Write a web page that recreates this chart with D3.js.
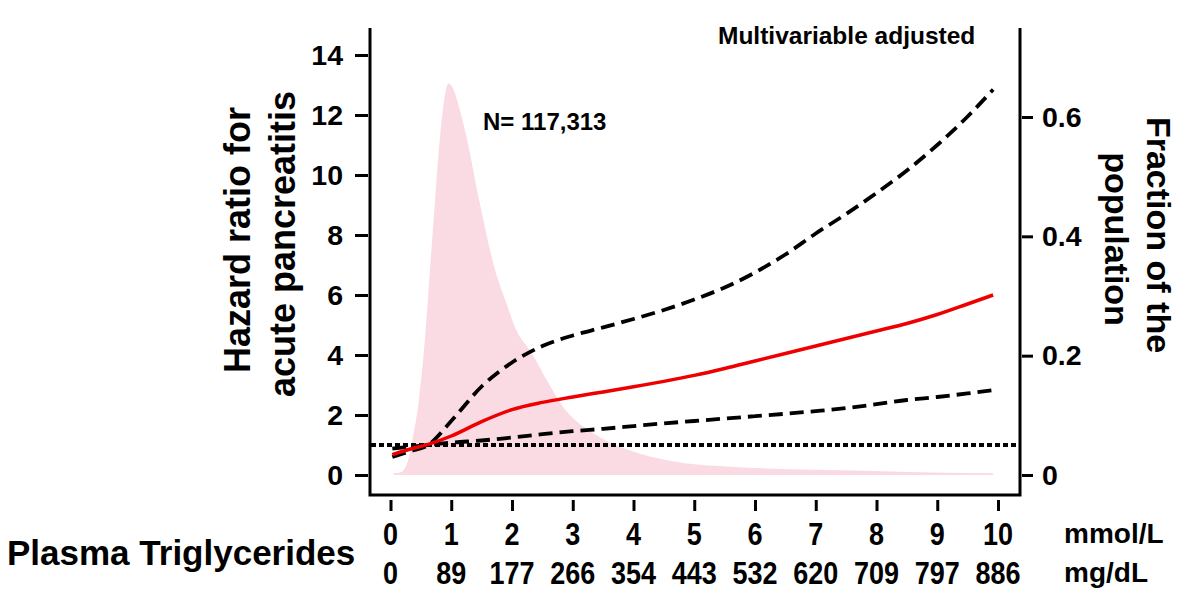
<!DOCTYPE html>
<html>
<head>
<meta charset="utf-8">
<script src="https://cdn.jsdelivr.net/npm/d3@7"></script>
<style>
  html, body { margin: 0; padding: 0; background: #fff; }
  svg { display: block; font-family: "Liberation Sans", Arial, sans-serif; font-weight: bold; }
</style>
</head>
<body>
<svg id="chart" width="1200" height="591"></svg>
<script>
// ---- data ----
const xTicks = [0, 1, 2, 3, 4, 5, 6, 7, 8, 9, 10];
const xTickLabelsMgdl = ["0", "89", "177", "266", "354", "443", "532", "620", "709", "797", "886"];
const yLeftTicks = [0, 2, 4, 6, 8, 10, 12, 14];
const yRightTicks = [0, 0.2, 0.4, 0.6];

// population distribution (fraction of the population) vs plasma TG (mmol/L)
const densX = [0.05, 0.16, 0.24, 0.29, 0.37, 0.46, 0.57, 0.65, 0.73, 0.815, 0.88, 0.95, 1.03, 1.11, 1.25, 1.47, 1.72, 1.9, 2.06, 2.32, 2.6, 2.84, 3.04, 3.34, 3.6, 3.89, 4.27, 4.6, 5.09, 5.6, 6.19, 7.0, 7.84, 8.93, 9.92];
const densF = [0.003, 0.004, 0.012, 0.025, 0.064, 0.12, 0.232, 0.344, 0.456, 0.567, 0.625, 0.656, 0.648, 0.623, 0.567, 0.456, 0.344, 0.29, 0.245, 0.205, 0.154, 0.114, 0.092, 0.07, 0.055, 0.043, 0.031, 0.024, 0.017, 0.014, 0.011, 0.009, 0.007, 0.004, 0.003];

// hazard ratio curves
const hrX = [0.03, 0.3, 0.62, 1.0, 1.5, 2.0, 2.5, 3.0, 3.5, 4.0, 4.5, 5.0, 5.5, 6.0, 6.5, 7.0, 7.5, 8.0, 8.5, 9.0, 9.5, 9.92];
const hrEst = [0.68, 0.85, 1.02, 1.3, 1.78, 2.18, 2.42, 2.6, 2.77, 2.94, 3.12, 3.32, 3.55, 3.8, 4.05, 4.3, 4.55, 4.8, 5.05, 5.35, 5.7, 6.0];
const hrCiA = [0.6, 0.78, 1.0, 1.8, 2.95, 3.75, 4.3, 4.65, 4.92, 5.2, 5.5, 5.85, 6.25, 6.75, 7.35, 8.05, 8.7, 9.4, 10.15, 11.0, 11.95, 12.85];
const hrCiB = [0.88, 0.94, 1.0, 1.08, 1.15, 1.25, 1.36, 1.46, 1.54, 1.63, 1.72, 1.8, 1.88, 1.96, 2.04, 2.13, 2.23, 2.36, 2.5, 2.6, 2.72, 2.83];
const refHR = 1;

// ---- layout ----
const box = { left: 370, right: 1020, top: 28, bottom: 495 };
const svg = d3.select("#chart");

const x = d3.scaleLinear().domain([0, 10]).range([390.5, 998]);
const yL = d3.scaleLinear().domain([0, 14]).range([475, 55]);
const yR = d3.scaleLinear().domain([0, 0.6]).range([475, 117]);

// distribution area
const dens = densX.map((v, i) => ({ x: v, f: densF[i] }));
svg.append("path")
  .datum(dens)
  .attr("fill", "#fbdbe3")
  .attr("d", d3.area().x(d => x(d.x)).y0(yR(0)).y1(d => yR(d.f)).curve(d3.curveMonotoneX));

// reference line HR = 1
svg.append("path")
  .datum([x.invert(box.left + 1), x.invert(box.right - 1)])
  .attr("fill", "none").attr("stroke", "#000").attr("stroke-width", 4)
  .attr("stroke-dasharray", "5,3")
  .attr("d", d3.line().x(d => x(d)).y(() => yL(refHR)));

const line = d3.line().x(d => x(d.x)).y(d => yL(d.y)).curve(d3.curveMonotoneX);
function series(arr) { return hrX.map((v, i) => ({ x: v, y: arr[i] })); }

[hrCiA, hrCiB].forEach(arr => {
  svg.append("path").datum(series(arr))
    .attr("fill", "none").attr("stroke", "#000").attr("stroke-width", 3.8)
    .attr("stroke-dasharray", "14,7")
    .attr("d", line);
});
svg.append("path").datum(series(hrEst))
  .attr("fill", "none").attr("stroke", "#ee0000").attr("stroke-width", 3.5)
  .attr("d", line);

// box (left, bottom, right)
svg.append("path")
  .attr("fill", "none").attr("stroke", "#000").attr("stroke-width", 3)
  .attr("d", `M${box.left},${box.top}V${box.bottom}H${box.right}V${box.top}`);

// left axis
const gL = svg.append("g").attr("transform", `translate(${box.left - 2},0)`)
  .call(d3.axisLeft(yL).tickValues(yLeftTicks).tickSize(13).tickPadding(12).tickFormat(d3.format("d")));
gL.select(".domain").remove();
gL.selectAll(".tick line").attr("stroke-width", 3);
gL.selectAll(".tick text").attr("font-size", 28.5).attr("font-family", "Liberation Sans, Arial, sans-serif").attr("font-weight", "bold").attr("fill", "#000");

// right axis
const gR = svg.append("g").attr("transform", `translate(${box.right + 2},0)`)
  .call(d3.axisRight(yR).tickValues(yRightTicks).tickSize(11).tickPadding(9).tickFormat(d => d === 0 ? "0" : d3.format(".1f")(d)));
gR.select(".domain").remove();
gR.selectAll(".tick line").attr("stroke-width", 3);
gR.selectAll(".tick text").attr("font-size", 28.5).attr("font-family", "Liberation Sans, Arial, sans-serif").attr("font-weight", "bold").attr("fill", "#000");

// bottom axis (ticks only)
const gB = svg.append("g").attr("transform", `translate(0,500)`)
  .call(d3.axisBottom(x).tickValues(xTicks).tickSize(11).tickFormat(""));
gB.select(".domain").remove();
gB.selectAll(".tick line").attr("stroke-width", 3);

const lab = svg.append("g").attr("font-size", 31).attr("fill", "#000");
xTicks.forEach((t, i) => {
  lab.append("text").attr("transform", `translate(${x(t)},545) scale(0.87,1)`).attr("text-anchor", "middle").text(String(t));
  lab.append("text").attr("transform", `translate(${x(t)},584) scale(0.87,1)`).attr("text-anchor", "middle").text(xTickLabelsMgdl[i]);
});

svg.append("text").attr("x", 1064).attr("y", 543).attr("font-size", 28).text("mmol/L");
svg.append("text").attr("x", 1064).attr("y", 582).attr("font-size", 28).text("mg/dL");
svg.append("text").attr("x", 7).attr("y", 565).attr("font-size", 35).text("Plasma Triglycerides");

// axis titles
svg.append("text").attr("transform", "translate(250,240) rotate(-90)").attr("text-anchor", "middle").attr("font-size", 36).text("Hazard ratio for");
svg.append("text").attr("transform", "translate(295,244) rotate(-90)").attr("text-anchor", "middle").attr("font-size", 36).text("acute pancreatitis");
svg.append("text").attr("transform", "translate(1147,235) rotate(90)").attr("text-anchor", "middle").attr("font-size", 34).text("Fraction of the");
svg.append("text").attr("transform", "translate(1105,239) rotate(90)").attr("text-anchor", "middle").attr("font-size", 34).text("population");

// annotations
svg.append("text").attr("x", 718).attr("y", 44).attr("font-size", 24.5).text("Multivariable adjusted");
svg.append("text").attr("x", 483).attr("y", 130).attr("font-size", 24).text("N= 117,313");
</script>
</body>
</html>
